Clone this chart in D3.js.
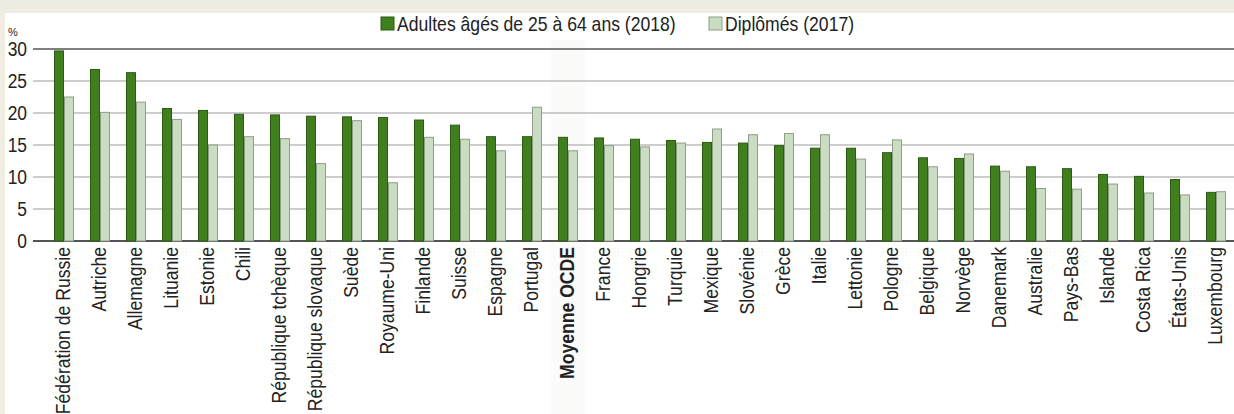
<!DOCTYPE html>
<html>
<head>
<meta charset="utf-8">
<script src="https://cdn.jsdelivr.net/npm/d3@7"></script>
<style>
  body { margin: 0; background: #efede2; }
  svg { display: block; }
  text { font-family: "Liberation Sans", Arial, sans-serif; fill: #222; }
</style>
</head>
<body>
<script>
// country labels, left to right
var countries = ["Fédération de Russie", "Autriche", "Allemagne", "Lituanie", "Estonie", "Chili",
  "République tchèque", "République slovaque", "Suède", "Royaume-Uni", "Finlande", "Suisse",
  "Espagne", "Portugal", "Moyenne OCDE", "France", "Hongrie", "Turquie", "Mexique", "Slovénie",
  "Grèce", "Italie", "Lettonie", "Pologne", "Belgique", "Norvège", "Danemark", "Australie",
  "Pays-Bas", "Islande", "Costa Rica", "États-Unis", "Luxembourg"];

// Adultes âgés de 25 à 64 ans (2018)
var adultes = [29.7, 26.8, 26.3, 20.7, 20.4, 19.8, 19.7, 19.5, 19.4, 19.3, 18.9, 18.1,
  16.3, 16.3, 16.2, 16.1, 15.9, 15.7, 15.4, 15.3, 14.9, 14.5, 14.5, 13.8, 13.0, 12.9,
  11.7, 11.6, 11.3, 10.4, 10.1, 9.6, 7.6];

// Diplômés (2017)
var diplomes = [22.5, 20.1, 21.7, 19.0, 15.0, 16.3, 16.0, 12.1, 18.8, 9.1, 16.2, 15.9,
  14.1, 20.9, 14.1, 14.9, 14.7, 15.3, 17.5, 16.6, 16.8, 16.6, 12.8, 15.8, 11.6, 13.6,
  10.9, 8.2, 8.1, 8.9, 7.5, 7.2, 7.7];

var yTicks = [0, 5, 10, 15, 20, 25, 30];
var seriesNames = ["Adultes âgés de 25 à 64 ans (2018)", "Diplômés (2017)"];
var highlight = "Moyenne OCDE";

var width = 1234, height = 414;
var narrow = 0.87; // squeeze text, the source font is condensed
var colors = { fill: ["#3f7f1d", "#cadcc1"], stroke: ["#2b5c12", "#8f9e88"] };

var svg = d3.select("body").append("svg")
  .attr("width", width)
  .attr("height", height);

// white panel
svg.append("rect")
  .attr("x", 5).attr("y", 13)
  .attr("width", width - 5).attr("height", height - 13)
  .attr("fill", "#fff");

var x = d3.scaleBand()
  .domain(countries)
  .range([46, 1234])
  .paddingInner(16 / 36)
  .paddingOuter(8 / 36);

var xs = d3.scaleBand()
  .domain([0, 1])
  .range([0, x.bandwidth()]);

var y = d3.scaleLinear()
  .domain([0, 30])
  .range([241, 49]);

// faint column behind OECD average
svg.append("rect")
  .attr("x", x(highlight) - 8)
  .attr("y", 40)
  .attr("width", x.bandwidth() + 16)
  .attr("height", 374)
  .attr("fill", "#fbfbf9");

// gridlines
svg.selectAll("line.grid")
  .data(yTicks)
  .enter().append("line")
    .attr("class", "grid")
    .attr("x1", 33).attr("x2", width)
    .attr("y1", function(d) { return y(d); })
    .attr("y2", function(d) { return y(d); })
    .attr("stroke", function(d) { return d === 30 ? "#808080" : d === 0 ? "#555" : "#bdbdbd"; })
    .attr("stroke-width", function(d) { return d === 30 || d === 0 ? 2 : 1.5; });

// y tick labels
svg.selectAll("text.ytick")
  .data(yTicks)
  .enter().append("text")
    .attr("class", "ytick")
    .attr("transform", function(d) { return "translate(27," + y(d) + ") scale(" + narrow + ",1)"; })
    .attr("dy", "0.35em")
    .attr("text-anchor", "end")
    .style("font-size", "20px")
    .text(function(d) { return d; });

svg.append("text")
  .attr("x", 8).attr("y", 36)
  .style("font-size", "11px")
  .text("%");

// bars
var groups = svg.selectAll("g.country")
  .data(countries)
  .enter().append("g")
    .attr("class", "country")
    .attr("transform", function(d) { return "translate(" + x(d) + ",0)"; });

groups.selectAll("rect")
  .data(function(d, i) { return [adultes[i], diplomes[i]]; })
  .enter().append("rect")
    .attr("x", function(d, j) { return xs(j) + 0.5; })
    .attr("y", function(d) { return y(d); })
    .attr("width", xs.bandwidth() - 1)
    .attr("height", function(d) { return y(0) - y(d); })
    .attr("fill", function(d, j) { return colors.fill[j]; })
    .attr("stroke", function(d, j) { return colors.stroke[j]; })
    .attr("stroke-width", 1);

// x labels, rotated
svg.selectAll("text.xlabel")
  .data(countries)
  .enter().append("text")
    .attr("class", "xlabel")
    .attr("transform", function(d) {
      return "translate(" + (x(d) + x.bandwidth() / 2) + ",247) rotate(-90) scale(0.88,1)";
    })
    .attr("dy", "0.28em")
    .attr("text-anchor", "end")
    .style("font-size", "20px")
    .style("font-weight", function(d) { return d === highlight ? "bold" : "normal"; })
    .text(function(d) { return d; });

// legend
var legendX = [381, 709];
var legend = svg.selectAll("g.legend")
  .data(seriesNames)
  .enter().append("g")
    .attr("class", "legend")
    .attr("transform", function(d, i) { return "translate(" + legendX[i] + ",17)"; });

legend.append("rect")
  .attr("width", 13).attr("height", 13)
  .attr("fill", function(d, i) { return colors.fill[i]; })
  .attr("stroke", function(d, i) { return colors.stroke[i]; });

legend.append("text")
  .attr("transform", "translate(16,7) scale(0.88,1)")
  .attr("dy", "0.35em")
  .style("font-size", "20px")
  .text(function(d) { return d; });
</script>
</body>
</html>
